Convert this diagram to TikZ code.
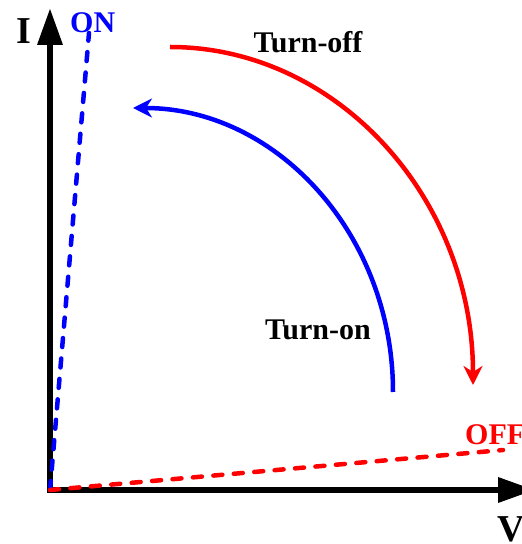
\documentclass[tikz,border=0pt]{standalone}
\usepackage{fontspec}
\setmainfont{Liberation Serif}
\usetikzlibrary{arrows.meta}

\begin{document}
\begin{tikzpicture}[x=1pt, y=1pt]

\definecolor{swaxis}{HTML}{000000}
\definecolor{swon}{HTML}{0000FF}
\definecolor{swoff}{HTML}{FF0000}

\tikzset{
  axisline/.style={
    draw=swaxis, line width=6.5pt,
    {Triangle[length=37pt,width=24pt]}-{Triangle[length=37pt,width=24pt]}
  },
  stateline/.style={
    line width=4.5pt, line cap=round, dash pattern=on 9pt off 11.5pt
  },
  trajectory/.style={
    line width=4.5pt, -{Stealth[length=19pt,width=19pt,inset=6pt]}
  },
  axislabel/.style={font=\fontsize{38}{40}\selectfont\bfseries, inner sep=0pt},
  curvelabel/.style={font=\fontsize{30}{32}\selectfont\bfseries, inner sep=0pt}
}

\useasboundingbox (0,0) rectangle (522,544);

% Axes: current up, voltage to the right.
\coordinate (O)    at (50,54);
\coordinate (Itip) at (50,536);
\coordinate (Vtip) at (535,54);
\draw[axisline] (Itip) -- (O) -- (Vtip);
\node[axislabel, anchor=base east] (ilabel) at (31,500) {I};
\node[axislabel, anchor=base west] (vlabel) at (497,2) {V};

% The two steady states: steep ON line, flat OFF line.
\coordinate (onend)  at (89,511);
\coordinate (offend) at (503,94);
\draw[stateline, swon]  (O) -- (onend);
\draw[stateline, swoff] (O) -- (offend);
\node[curvelabel, text=swon, anchor=base west]  (onlabel)  at (70,511) {ON};
\node[curvelabel, text=swoff, anchor=base west] (offlabel) at (465,99) {OFF};

% Switching trajectories (quarter ellipses).
\coordinate (tofstart) at (170,497);
\coordinate (tofend)   at (473,159);
\draw[trajectory, swoff] (tofstart)
  .. controls +(167,0) and +(0,187) .. (tofend);
\node[curvelabel, anchor=base] (turnoff) at (308,491) {Turn-off};

\coordinate (tonstart) at (393,152);
\coordinate (tonend)   at (133,436);
\draw[trajectory, swon] (tonstart)
  .. controls +(0,157) and +(144,0) .. (tonend);
\node[curvelabel, anchor=base] (turnon) at (318,204) {Turn-on};

\end{tikzpicture}
\end{document}
